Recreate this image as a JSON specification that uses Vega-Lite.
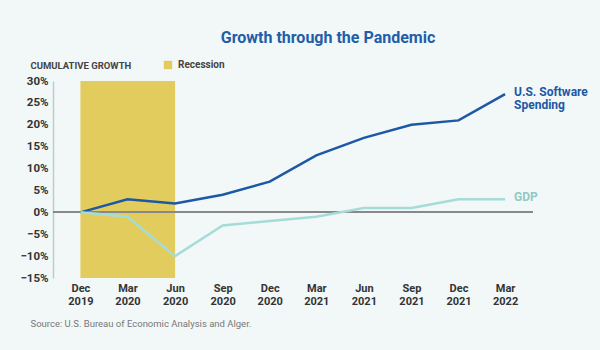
{
  "$schema": "https://vega.github.io/schema/vega-lite/v6.json",
  "width": 480,
  "height": 197,
  "autosize": {"type": "none"},
  "padding": {"left": 53, "top": 81, "right": 67, "bottom": 72},
  "background": "#f2f7f8",
  "config": {"view": {"stroke": null}, "font": "Roboto, sans-serif"},
  "title": {
    "text": "Growth through the Pandemic",
    "anchor": "middle",
    "dx": 35,
    "offset": 14,
    "fontSize": 16,
    "fontWeight": "bold",
    "color": "#1f5ea8",
    "font": "Roboto, sans-serif"
  },
  "datasets": {
    "growth": [
      {"date": "2019-12-01", "series": "U.S. Software Spending", "value": 0},
      {"date": "2020-03-01", "series": "U.S. Software Spending", "value": 3},
      {"date": "2020-06-01", "series": "U.S. Software Spending", "value": 2},
      {"date": "2020-09-01", "series": "U.S. Software Spending", "value": 4},
      {"date": "2020-12-01", "series": "U.S. Software Spending", "value": 7},
      {"date": "2021-03-01", "series": "U.S. Software Spending", "value": 13},
      {"date": "2021-06-01", "series": "U.S. Software Spending", "value": 17},
      {"date": "2021-09-01", "series": "U.S. Software Spending", "value": 20},
      {"date": "2021-12-01", "series": "U.S. Software Spending", "value": 21},
      {"date": "2022-03-01", "series": "U.S. Software Spending", "value": 27},
      {"date": "2019-12-01", "series": "GDP", "value": 0},
      {"date": "2020-03-01", "series": "GDP", "value": -1},
      {"date": "2020-06-01", "series": "GDP", "value": -10},
      {"date": "2020-09-01", "series": "GDP", "value": -3},
      {"date": "2020-12-01", "series": "GDP", "value": -2},
      {"date": "2021-03-01", "series": "GDP", "value": -1},
      {"date": "2021-06-01", "series": "GDP", "value": 1},
      {"date": "2021-09-01", "series": "GDP", "value": 1},
      {"date": "2021-12-01", "series": "GDP", "value": 3},
      {"date": "2022-03-01", "series": "GDP", "value": 3}
    ],
    "recession": [
      {"start": "2019-12-01", "end": "2020-06-01", "top": 30, "bottom": -15, "name": "Recession"}
    ],
    "labels": [
      {"date": "2022-03-01", "series": "U.S. Software Spending", "value": 27, "label": "U.S. Software\nSpending"},
      {"date": "2022-03-01", "series": "GDP", "value": 3, "label": "GDP"}
    ]
  },
  "layer": [
    {
      "data": {"name": "recession"},
      "mark": {"type": "rect"},
      "encoding": {
        "x": {
          "field": "start",
          "type": "temporal",
          "scale": {"type": "utc", "domain": ["2019-10-09", "2022-04-24"], "nice": false},
          "axis": {
            "values": [
              {"year": 2019, "month": 12, "date": 1, "utc": true},
              {"year": 2020, "month": 3, "date": 1, "utc": true},
              {"year": 2020, "month": 6, "date": 1, "utc": true},
              {"year": 2020, "month": 9, "date": 1, "utc": true},
              {"year": 2020, "month": 12, "date": 1, "utc": true},
              {"year": 2021, "month": 3, "date": 1, "utc": true},
              {"year": 2021, "month": 6, "date": 1, "utc": true},
              {"year": 2021, "month": 9, "date": 1, "utc": true},
              {"year": 2021, "month": 12, "date": 1, "utc": true},
              {"year": 2022, "month": 3, "date": 1, "utc": true}
            ],
            "title": "Source: U.S. Bureau of Economic Analysis and Alger.",
            "titleX": -23,
            "titleY": 45,
            "titleAlign": "left",
            "titleAnchor": null,
            "titleBaseline": "middle",
            "titleFontSize": 9.5,
            "titleFontWeight": "normal",
            "titleColor": "#777777",
            "labelAngle": 0,
            "labelAlign": "center",
            "labelFlush": false,
            "labelExpr": "[utcFormat(datum.value, '%b'), utcFormat(datum.value, '%Y')]",
            "labelLineHeight": 13,
            "labelFontSize": 11,
            "labelFontWeight": "bold",
            "labelColor": "#333333",
            "labelPadding": 4,
            "labelOverlap": false,
            "domain": false,
            "ticks": false,
            "grid": false
          }
        },
        "x2": {"field": "end"},
        "y": {
          "field": "top",
          "type": "quantitative",
          "scale": {"domain": [-15, 30], "nice": false, "zero": false},
          "axis": {
            "tickCount": 9,
            "format": "d",
            "labelExpr": "datum.label + '%'",
            "labelFontSize": 11.5,
            "labelFontWeight": "bold",
            "labelColor": "#333333",
            "labelPadding": 5,
            "labelOverlap": false,
            "labelSeparation": 0,
            "labelBound": false,
            "labelFlush": false,
            "ticks": false,
            "grid": false,
            "domainColor": "#c4c8ca",
            "domainWidth": 1.5,
            "title": "CUMULATIVE GROWTH",
            "titleAngle": 0,
            "titleX": -23,
            "titleY": -16,
            "titleAlign": "left",
            "titleBaseline": "middle",
            "titleFontSize": 9.5,
            "titleFontWeight": "bold",
            "titleColor": "#444444"
          }
        },
        "y2": {"field": "bottom"},
        "fill": {
          "field": "name",
          "type": "nominal",
          "scale": {"range": ["#e3cc5e"]},
          "legend": {
            "title": null,
            "orient": "none",
            "legendX": 110,
            "legendY": -21,
            "symbolType": "square",
            "symbolSize": 70,
            "symbolStrokeWidth": 0,
            "labelFontSize": 10,
            "labelFontWeight": "bold",
            "labelColor": "#444444",
            "labelOffset": 5,
            "padding": 0
          }
        }
      }
    },
    {
      "data": {"name": "growth"},
      "mark": {"type": "rule", "color": "#8a8a8a", "strokeWidth": 1},
      "encoding": {"y": {"datum": 0, "type": "quantitative"}}
    },
    {
      "data": {"name": "growth"},
      "mark": {"type": "line", "strokeWidth": 2.5},
      "encoding": {
        "x": {"field": "date", "type": "temporal"},
        "y": {"field": "value", "type": "quantitative"},
        "stroke": {
          "field": "series",
          "type": "nominal",
          "scale": {"domain": ["U.S. Software Spending", "GDP"], "range": ["#1c58a5", "#a6dcd7"]},
          "legend": null
        }
      }
    },
    {
      "data": {"name": "labels"},
      "mark": {"type": "text", "align": "left", "baseline": "middle", "dx": 9, "dy": -2, "lineBreak": "\n", "lineHeight": 13, "fontSize": 12, "fontWeight": "bold"},
      "encoding": {
        "x": {"field": "date", "type": "temporal"},
        "y": {"field": "value", "type": "quantitative"},
        "text": {"field": "label"},
        "color": {
          "field": "series",
          "type": "nominal",
          "scale": {"domain": ["U.S. Software Spending", "GDP"], "range": ["#1c58a5", "#8fcac5"]},
          "legend": null
        }
      }
    }
  ]
}
